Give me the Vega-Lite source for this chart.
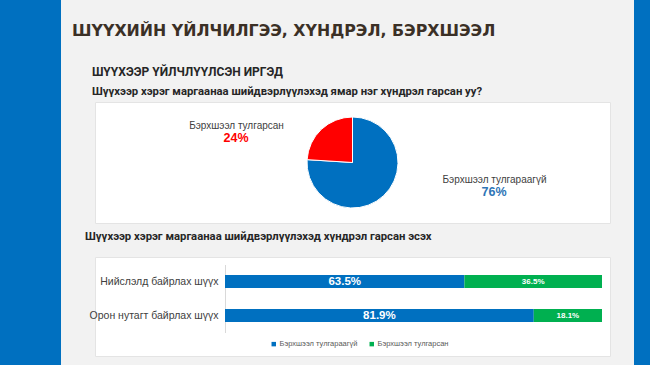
{
  "$schema": "https://vega.github.io/schema/vega-lite/v6.json",
  "background": "#f2f2f2",
  "padding": 0,
  "spacing": 0,
  "config": {"view": {"stroke": null}, "font": "Liberation Sans"},
  "hconcat": [
    {"width": 61, "height": 365, "data": {"values": []}, "mark": "point", "view": {"fill": "#0070c0", "stroke": null}},
    {"width": 11, "height": 365, "data": {"values": []}, "mark": "point"},
    {
      "bounds": "flush",
      "spacing": 0,
      "resolve": {"scale": {"color": "independent"}, "legend": {"color": "independent"}},
      "vconcat": [
        {
          "width": 515, "height": 24, "data": {"values": []}, "mark": "point",
          "title": {"text": "ШҮҮХИЙН ҮЙЛЧИЛГЭЭ, ХҮНДРЭЛ, БЭРХШЭЭЛ", "orient": "bottom", "anchor": "start", "dx": -23, "offset": 0, "font": "DejaVu Sans", "fontSize": 15.8, "fontWeight": "bold", "color": "#3b3026"}
        },
        {"width": 515, "height": 78, "data": {"values": []}, "mark": "point"},
        {
          "width": 515, "height": 121,
          "view": {"fill": "white", "stroke": "#e4e4e4"},
          "title": {
            "text": "ШҮҮХЭЭР ҮЙЛЧЛҮҮЛСЭН ИРГЭД",
            "subtitle": "Шүүхээр хэрэг маргаанаа шийдвэрлүүлэхэд ямар нэг хүндрэл гарсан уу?",
            "anchor": "start", "dx": -3, "offset": 4,
            "font": "Roboto", "fontSize": 12, "fontWeight": "bold", "color": "#262626",
            "subtitleFont": "Roboto", "subtitleFontSize": 11.3, "subtitleFontWeight": "bold", "subtitleColor": "#262626", "subtitlePadding": 7
          },
          "data": {"values": [
            {"cat": "Бэрхшээл тулгараагүй", "v": 0.76},
            {"cat": "Бэрхшээл тулгарсан", "v": 0.24}
          ]},
          "layer": [
            {
              "mark": {"type": "arc", "outerRadius": 45.5, "stroke": "white", "strokeWidth": 1},
              "encoding": {
                "theta": {"field": "v", "type": "quantitative", "stack": true},
                "color": {"field": "cat", "type": "nominal", "scale": {"domain": ["Бэрхшээл тулгараагүй", "Бэрхшээл тулгарсан"], "range": ["#0070c0", "#ff0000"]}, "legend": null},
                "order": {"field": "cat", "type": "ordinal", "sort": "ascending"}
              }
            },
            {
              "transform": [{"filter": "datum.cat === 'Бэрхшээл тулгарсан'"}],
              "mark": {"type": "text", "dx": -116, "dy": -36.5, "fontSize": 10, "color": "#404040"},
              "encoding": {"text": {"field": "cat", "type": "nominal"}}
            },
            {
              "transform": [{"filter": "datum.cat === 'Бэрхшээл тулгарсан'"}],
              "mark": {"type": "text", "dx": -116.5, "dy": -24.5, "fontSize": 12.5, "fontWeight": "bold", "color": "#ff0000"},
              "encoding": {"text": {"field": "v", "type": "quantitative", "format": ".0%"}}
            },
            {
              "transform": [{"filter": "datum.cat === 'Бэрхшээл тулгараагүй'"}],
              "mark": {"type": "text", "dx": 142, "dy": 17.5, "fontSize": 10, "color": "#404040"},
              "encoding": {"text": {"field": "cat", "type": "nominal"}}
            },
            {
              "transform": [{"filter": "datum.cat === 'Бэрхшээл тулгараагүй'"}],
              "mark": {"type": "text", "dx": 141.5, "dy": 29.5, "fontSize": 12.5, "fontWeight": "bold", "color": "#2e75b6"},
              "encoding": {"text": {"field": "v", "type": "quantitative", "format": ".0%"}}
            }
          ]
        },
        {"width": 515, "height": 34, "data": {"values": []}, "mark": "point"},
        {
          "width": 515, "height": 99,
          "view": {"fill": "white", "stroke": "#e4e4e4"},
          "title": {
            "text": "Шүүхээр хэрэг маргаанаа шийдвэрлүүлэхэд хүндрэл гарсан эсэх",
            "anchor": "start", "dx": -4, "offset": 15,
            "font": "Roboto", "fontSize": 11.3, "fontWeight": "bold", "color": "#262626"
          },
          "data": {"values": [
            {"loc": "Нийслэлд байрлах шүүх", "cat": "Бэрхшээл тулгараагүй", "v": 0.635},
            {"loc": "Нийслэлд байрлах шүүх", "cat": "Бэрхшээл тулгарсан", "v": 0.365},
            {"loc": "Орон нутагт байрлах шүүх", "cat": "Бэрхшээл тулгараагүй", "v": 0.819},
            {"loc": "Орон нутагт байрлах шүүх", "cat": "Бэрхшээл тулгарсан", "v": 0.181}
          ]},
          "encoding": {
            "y": {
              "field": "loc", "type": "nominal",
              "sort": ["Нийслэлд байрлах шүүх", "Орон нутагт байрлах шүүх"],
              "scale": {"range": [7.5, 75.5], "paddingInner": 0, "paddingOuter": 0},
              "axis": {"orient": "left", "offset": -130, "title": null, "ticks": false, "grid": false, "domainColor": "#d9d9d9", "labelColor": "#404040", "labelFont": "Liberation Sans", "labelFontSize": 10.5, "labelPadding": 7}
            }
          },
          "layer": [
            {
              "mark": {"type": "bar", "size": 13},
              "encoding": {
                "x": {"field": "v", "type": "quantitative", "stack": "zero", "scale": {"domain": [0, 1], "range": [130, 507], "nice": false}, "axis": null},
                "color": {
                  "field": "cat", "type": "nominal",
                  "scale": {"domain": ["Бэрхшээл тулгараагүй", "Бэрхшээл тулгарсан"], "range": ["#0070c0", "#00b050"]},
                  "legend": {"orient": "none", "legendX": 175, "legendY": 83, "direction": "horizontal", "title": null, "symbolType": "square", "symbolSize": 20, "labelFontSize": 7.5, "labelColor": "#595959", "labelFont": "Liberation Sans", "columnPadding": 10, "labelOffset": 2}
                },
                "order": {"field": "cat", "type": "ordinal", "sort": "ascending"}
              }
            },
            {
              "transform": [
                {"stack": "v", "groupby": ["loc"], "sort": [{"field": "cat", "order": "ascending"}], "as": ["v0", "v1"]},
                {"calculate": "(datum.v0 + datum.v1) / 2", "as": "mid"}
              ],
              "mark": {"type": "text", "fontWeight": "bold", "color": "white", "font": "Liberation Sans"},
              "encoding": {
                "x": {"field": "mid", "type": "quantitative"},
                "text": {"field": "v", "type": "quantitative", "format": ".1%"},
                "size": {"field": "cat", "type": "ordinal", "scale": {"domain": ["Бэрхшээл тулгараагүй", "Бэрхшээл тулгарсан"], "range": [11.5, 8]}, "legend": null}
              }
            }
          ]
        }
      ]
    },
    {"width": 23, "height": 365, "data": {"values": []}, "mark": "point"},
    {"width": 17, "height": 365, "data": {"values": []}, "mark": "point", "view": {"fill": "#0070c0", "stroke": null}}
  ]
}
